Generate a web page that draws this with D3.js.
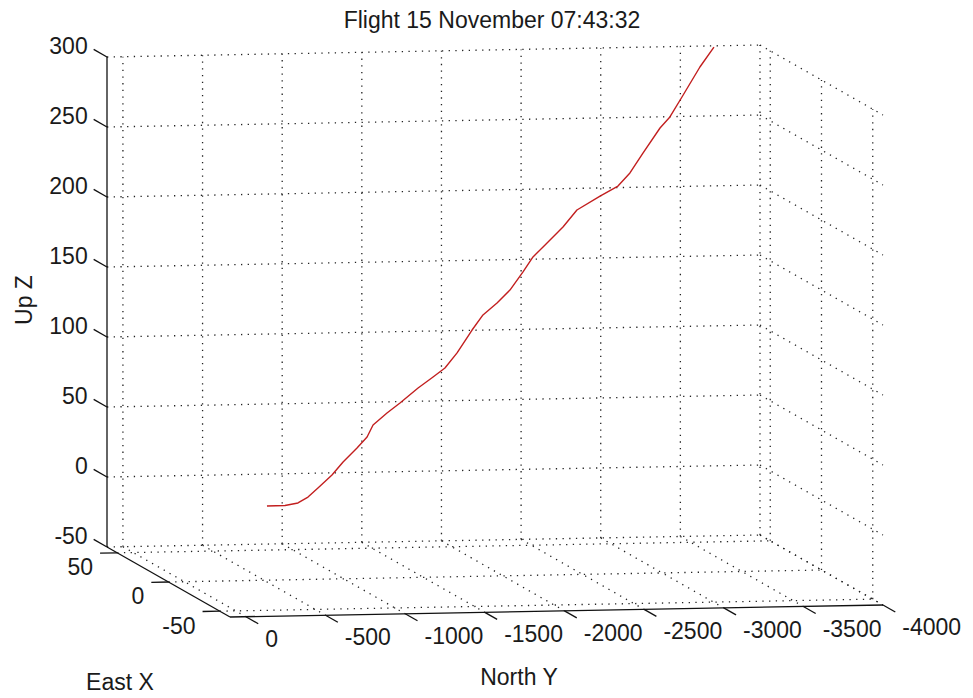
<!DOCTYPE html>
<html>
<head>
<meta charset="utf-8">
<script src="https://cdn.jsdelivr.net/npm/d3@7"></script>
<style>
  html, body { margin: 0; padding: 0; background: #fff; }
  svg text { font-family: "Liberation Sans", Arial, Helvetica, sans-serif; fill: #1a1a1a; }
</style>
</head>
<body>
<svg id="chart" width="973" height="698"></svg>
<script>
// ---- Data ----
const titleText = "Flight 15 November 07:43:32";
const xTicks = [50, 0, -50];
const yTicks = [0, -500, -1000, -1500, -2000, -2500, -3000, -3500, -4000];
const zTicks = [-50, 0, 50, 100, 150, 200, 250, 300];
const xLimits = [60, -60];
const yLimits = [100, -4000];
const zLimits = [-50, 300];

const eastX = [4,4,5,5,6,8,9,10,12,13,14,15,16,18,19,21,23,24,26,28,30,33,35,37,38,40,41,43,46,48,50,53,56,58];
const northY = [-544,-657,-745,-808,-877,-978,-1054,-1148,-1224,-1268,-1362,-1450,-1570,-1677,-1758,-1847,-1954,-2029,-2130,-2224,-2319,-2401,-2502,-2615,-2709,-2867,-2986,-3074,-3175,-3295,-3370,-3465,-3597,-3698];
const upZ = [1.3,1.4,2.6,6.7,12.6,20.8,29.6,38.9,45.8,53.9,61.8,68.4,78.4,85.2,91.1,100.8,116.1,126.3,133.8,142,153.9,163.2,172.1,182.5,194,202.8,209.3,217.6,230.4,247.2,254.1,266.9,286.8,300];

// ---- Projection (MATLAB-like 3D view) ----
const origin = [107, 547];          // screen point of (xmax, ymax, zmin)
const EX = [123, 70], EY = [653, -12], EZ = [0, -490];
const fx = d3.scaleLinear().domain(xLimits).range([0, 1]);
const fy = d3.scaleLinear().domain(yLimits).range([0, 1]);
const fz = d3.scaleLinear().domain(zLimits).range([0, 1]);
function proj(X, Y, Z) {
  const a = fx(X), b = fy(Y), c = fz(Z);
  return [origin[0] + a*EX[0] + b*EY[0] + c*EZ[0],
          origin[1] + a*EX[1] + b*EY[1] + c*EZ[1]];
}

const svg = d3.select("#chart");
const gGrid = svg.append("g");
const gAxes = svg.append("g");
const gData = svg.append("g");
const gText = svg.append("g");

function seg(g, p, q, cls) {
  g.append("line").attr("x1", p[0]).attr("y1", p[1]).attr("x2", q[0]).attr("y2", q[1])
    .attr("class", cls);
}

const [xmax, xmin] = xLimits, [ymax, ymin] = yLimits, [zmin, zmax] = zLimits;

// Back wall (X = xmax)
yTicks.forEach(t => seg(gGrid, proj(xmax, t, zmin), proj(xmax, t, zmax), "grid"));
zTicks.forEach(t => seg(gGrid, proj(xmax, ymax, t), proj(xmax, ymin, t), "grid"));
// Floor (Z = zmin)
xTicks.forEach(t => seg(gGrid, proj(t, ymax, zmin), proj(t, ymin, zmin), "grid"));
yTicks.forEach(t => seg(gGrid, proj(xmax, t, zmin), proj(xmin, t, zmin), "grid"));
// Side wall (Y = ymin)
xTicks.forEach(t => seg(gGrid, proj(t, ymin, zmin), proj(t, ymin, zmax), "grid"));
zTicks.forEach(t => seg(gGrid, proj(xmax, ymin, t), proj(xmin, ymin, t), "grid"));

gGrid.selectAll("line").attr("stroke", "#222").attr("stroke-width", 1.3)
  .attr("stroke-dasharray", "1.3,5.4").attr("fill", "none");

// Axis lines
seg(gAxes, proj(xmax, ymax, zmin), proj(xmax, ymax, zmax), "axis");
seg(gAxes, proj(xmax, ymax, zmin), proj(xmin, ymax, zmin), "axis");
seg(gAxes, proj(xmin, ymax, zmin), proj(xmin, ymin, zmin), "axis");

// Ticks + labels
const fs = 23;
zTicks.forEach(t => {
  const p = proj(xmax, ymax, t), q = proj(xmax + 13, ymax, t);
  seg(gAxes, p, q, "axis");
  gText.append("text").attr("x", q[0] - 6).attr("y", q[1] - 3).attr("dy", "0.35em")
    .attr("text-anchor", "end").attr("font-size", fs).text(t);
});
xTicks.forEach(t => {
  const p = proj(t, ymax, zmin), q = proj(t, ymax + 108, zmin);
  seg(gAxes, p, q, "axis");
  gText.append("text").attr("x", q[0] - 7).attr("y", q[1] + 14).attr("dy", "0.35em")
    .attr("text-anchor", "end").attr("font-size", fs).text(t);
});
yTicks.forEach(t => {
  const p = proj(xmin, t, zmin), q = proj(xmin - 12, t, zmin);
  seg(gAxes, p, q, "axis");
  gText.append("text").attr("x", q[0] + 7).attr("y", q[1] + 15).attr("dy", "0.35em")
    .attr("text-anchor", "start").attr("font-size", fs).text(t);
});
gAxes.selectAll("line").attr("stroke", "#111").attr("stroke-width", 1.3);

// Flight path
const pts = eastX.map((x, i) => proj(x, northY[i], upZ[i]));
gData.append("path").attr("d", d3.line().curve(d3.curveLinear)(pts))
  .attr("fill", "none").attr("stroke", "#c21f1f").attr("stroke-width", 1.4)
  .attr("stroke-linejoin", "round");

// Titles
gText.append("text").attr("x", 492).attr("y", 28).attr("text-anchor", "middle")
  .attr("font-size", fs).text(titleText);
gText.append("text").attr("transform", "translate(32,300) rotate(-90)")
  .attr("text-anchor", "middle").attr("font-size", fs).text("Up Z");
gText.append("text").attr("x", 120).attr("y", 682).attr("dy", "0.35em")
  .attr("text-anchor", "middle").attr("font-size", fs).text("East X");
gText.append("text").attr("x", 519).attr("y", 677).attr("dy", "0.35em")
  .attr("text-anchor", "middle").attr("font-size", fs).text("North Y");
</script>
</body>
</html>
